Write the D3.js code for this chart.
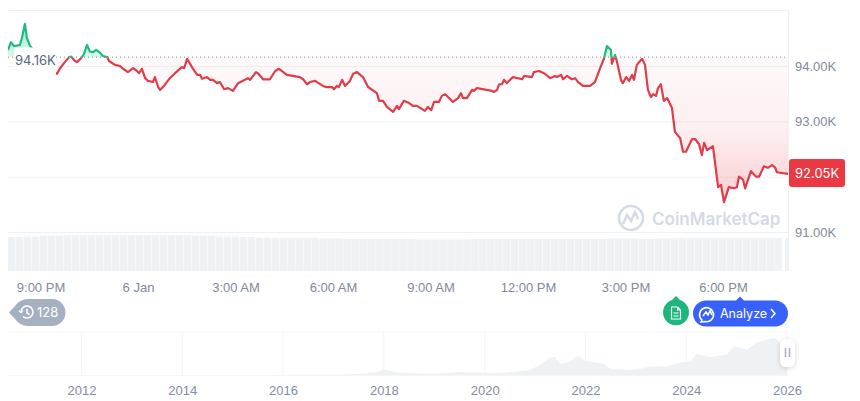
<!DOCTYPE html>
<html>
<head>
<meta charset="utf-8">
<script src="https://cdn.jsdelivr.net/npm/d3@7"></script>
<style>
  html, body { margin: 0; padding: 0; background: #fff; }
  svg { display: block; font-family: Inter, "Noto Sans", sans-serif; }
</style>
</head>
<body>
<svg id="chart" width="860" height="401"></svg>
<script>
// PRICE SERIES (hours since 8 PM, price in thousands)
var hours = [0,.09,.18,.37,.43,.52,.58,.68,.71,.98,1.29,1.51,1.60,1.75,1.88,1.94,2.06,2.12,2.25,2.34,2.43,2.52,2.62,2.71,2.83,2.92,3.05,3.11,3.29,3.45,3.54,3.69,3.85,3.97,4.03,4.12,4.22,4.31,4.46,4.52,4.62,4.68,4.80,4.98,5.14,5.35,5.42,5.51,5.66,5.82,5.91,5.97,6.12,6.22,6.31,6.43,6.52,6.65,6.77,6.92,7.08,7.38,7.45,7.63,7.69,7.85,8.06,8.22,8.34,8.58,8.98,9.08,9.20,9.29,9.45,9.69,9.78,9.97,10.03,10.12,10.18,10.28,10.37,10.52,10.62,10.74,10.92,11.08,11.35,11.42,11.54,11.66,11.85,11.97,12.03,12.18,12.34,12.46,12.58,12.83,12.92,13.02,13.11,13.26,13.35,13.45,13.54,13.69,13.85,13.94,14.00,14.12,14.28,14.34,14.43,14.89,14.95,15.05,15.11,15.20,15.26,15.35,15.45,15.54,15.82,15.88,16.12,16.18,16.34,16.52,16.68,16.83,16.89,17.02,17.08,17.20,17.35,17.45,17.54,17.69,17.91,18.06,18.22,18.34,18.43,18.55,18.58,18.68,18.74,18.86,18.92,19.02,19.11,19.20,19.26,19.35,19.51,19.60,19.69,19.78,19.85,19.94,20.00,20.09,20.18,20.28,20.43,20.52,20.68,20.77,20.86,21.05,21.14,21.26,21.35,21.42,21.51,21.69,21.85,21.94,22.03,22.18,22.34,22.43,22.49,22.62,22.68,22.86,23.02,23.11,23.26,23.38,23.51,23.60,23.66,24.00];
var prices = [94.29,94.43,94.36,94.38,94.51,94.76,94.51,94.36,94.34,94.16,93.93,93.86,93.96,94.07,94.16,94.17,94.09,94.07,94.14,94.22,94.38,94.26,94.25,94.29,94.24,94.18,94.16,94.09,94.02,94.00,93.95,93.89,93.96,93.91,93.87,93.95,93.78,93.73,93.71,93.80,93.62,93.57,93.64,93.78,93.87,93.98,93.96,94.13,93.98,93.84,93.84,93.77,93.80,93.75,93.75,93.69,93.71,93.58,93.60,93.55,93.69,93.78,93.75,93.89,93.87,93.76,93.76,93.91,93.95,93.84,93.80,93.76,93.67,93.71,93.73,93.64,93.62,93.62,93.58,93.64,93.62,93.75,93.64,93.73,93.86,93.89,93.80,93.62,93.51,93.37,93.37,93.26,93.17,93.28,93.22,93.37,93.33,93.28,93.28,93.19,93.26,93.20,93.35,93.35,93.46,93.49,93.44,93.35,93.42,93.51,93.42,93.42,93.57,93.55,93.60,93.55,93.53,93.57,93.67,93.67,93.75,93.69,93.75,93.80,93.76,93.82,93.80,93.89,93.91,93.86,93.78,93.82,93.80,93.84,93.76,93.82,93.76,93.78,93.71,93.64,93.64,93.71,93.96,94.14,94.36,94.29,94.04,94.20,94.07,93.75,93.69,93.80,93.73,93.84,93.75,94.02,94.13,94.02,93.57,93.44,93.49,93.46,93.60,93.67,93.37,93.42,93.24,92.81,92.70,92.45,92.45,92.68,92.68,92.59,92.39,92.61,92.48,92.55,91.81,91.85,91.54,91.81,91.79,91.81,92.00,91.94,91.79,92.10,92.00,92.00,92.19,92.16,92.21,92.17,92.08,92.05];
var baseline = 94.16;
var lastPrice = 92.05;

// AXIS TICKS
var priceTicks = [94, 93, 92, 91];
var timeTicks = [1, 4, 7, 10, 13, 16, 19, 22];
var timeLabels = ["9:00 PM", "6 Jan", "3:00 AM", "6:00 AM", "9:00 AM", "12:00 PM", "3:00 PM", "6:00 PM"];
var yearTicks = [2012, 2014, 2016, 2018, 2020, 2022, 2024, 2026];

// VOLUME BARS (billions, one bar per 15 minutes or so)
var volumes = [34,34,34.5,34.5,35,35,35,35.5,35.5,35.5,35.5,35.5,35.5,35.5,35.5,36,36,36,35.5,35.5,36,36,35.5,35,35,35,34.5,34.5,34.5,34,34,33.5,33.5,33,33,33,33,33,33,32.5,32.5,32.5,32,32,32,32,32,32,32,32,32,31.5,31.5,31.5,31.5,31.5,31.5,31.5,32,32,32,32,32,32,32,32,32,32,32,32,32,32,32,32,32,32.5,32.5,32.5,32.5,32,32,32.5,32.5,32.5,33,33,33,33,33,33,33,33,33,33,33,33,33];

// HISTORY NAVIGATOR (year, price in thousands)
var historyYears = [2010.54,2016.5,2017,2017.5,2017.8,2017.95,2018.03,2018.2,2018.5,2019,2019.5,2019.7,2020,2020.2,2020.5,2020.9,2021.1,2021.3,2021.4,2021.5,2021.7,2021.85,2022,2022.2,2022.35,2022.5,2022.9,2023.1,2023.3,2023.6,2023.9,2024.1,2024.2,2024.5,2024.8,2024.95,2025,2025.2,2025.4,2025.6,2025.75,2025.9,2026];
var historyPrices = [0,.5,1,3,8,15,19,10,7,4,10,9,8,6,10,16,35,58,60,36,45,65,47,42,38,21,17,22,28,29,42,45,70,60,68,96,94,84,108,118,124,100,105];

var left = 8, right = 788;
var svg = d3.select("#chart");
var defs = svg.append("defs");

// SCALES
var x = d3.scaleLinear().domain([0, 24]).range([left, right]);
var y = d3.scaleLinear().domain([91, 94]).range([232, 66]);
var yVol = d3.scaleLinear().domain([0, 40]).range([271, 231]);
var xBar = d3.scaleBand().domain(d3.range(volumes.length)).range([left, 782]).paddingInner(0.05);
var xYear = d3.scaleLinear().domain([2012, 2026]).range([81.5, 787]);
var yHist = d3.scaleLinear().domain([0, 130]).range([375, 336]);

// GRADIENTS AND CLIPS
var redGrad = defs.append("linearGradient").attr("id", "redGrad")
    .attr("gradientUnits", "userSpaceOnUse")
    .attr("x1", 0).attr("x2", 0).attr("y1", y(baseline)).attr("y2", y(91.54));
redGrad.append("stop").attr("offset", 0).attr("stop-color", "#ea3943").attr("stop-opacity", 0.03);
redGrad.append("stop").attr("offset", 0.5).attr("stop-color", "#ea3943").attr("stop-opacity", 0.08);
redGrad.append("stop").attr("offset", 1).attr("stop-color", "#ea3943").attr("stop-opacity", 0.25);

var greenGrad = defs.append("linearGradient").attr("id", "greenGrad")
    .attr("gradientUnits", "userSpaceOnUse")
    .attr("x1", 0).attr("x2", 0).attr("y1", y(94.76)).attr("y2", y(baseline));
greenGrad.append("stop").attr("offset", 0).attr("stop-color", "#16c784").attr("stop-opacity", 0.4);
greenGrad.append("stop").attr("offset", 1).attr("stop-color", "#16c784").attr("stop-opacity", 0.15);

defs.append("clipPath").attr("id", "above").append("rect")
    .attr("x", left).attr("y", 0).attr("width", right - left).attr("height", y(baseline));
defs.append("clipPath").attr("id", "below").append("rect")
    .attr("x", left).attr("y", y(baseline)).attr("width", right - left).attr("height", 271 - y(baseline));

// FRAME AND GRID
svg.append("line").attr("x1", left).attr("x2", right).attr("y1", 10.5).attr("y2", 10.5).attr("stroke", "#eff2f5");
svg.append("line").attr("x1", right + 0.5).attr("x2", right + 0.5).attr("y1", 10).attr("y2", 271).attr("stroke", "#eff2f5");

// the 92.00K label sits under the price tag, so only its gridline shows
var yAxis = d3.axisRight(y).tickValues(priceTicks)
    .tickSize(right - left)
    .tickFormat(function(d) { return d === 92 ? "" : d3.format(".2f")(d) + "K"; });
var yG = svg.append("g").attr("transform", "translate(" + left + ",0)").call(yAxis);
yG.select(".domain").remove();
yG.selectAll("line").attr("stroke", "#eff2f5");
yG.selectAll("text").attr("x", right - left + 7).attr("fill", "#808a9d").attr("font-size", 13);

// VOLUME
svg.append("g").selectAll("rect").data(volumes).join("rect")
    .attr("x", function(d, i) { return xBar(i); })
    .attr("width", xBar.bandwidth())
    .attr("y", function(d) { return yVol(d); })
    .attr("height", function(d) { return yVol(0) - yVol(d); })
    .attr("fill", "#eff2f5");
svg.append("rect").attr("x", 785).attr("width", 3).attr("y", yVol(33)).attr("height", yVol(0) - yVol(33)).attr("fill", "#eff2f5");

// PRICE AREA AND LINE
var points = hours.map(function(h, i) { return [h, prices[i]]; });
var area = d3.area().x(function(d) { return x(d[0]); }).y0(y(baseline)).y1(function(d) { return y(d[1]); });
var line = d3.line().x(function(d) { return x(d[0]); }).y(function(d) { return y(d[1]); });

svg.append("path").datum(points).attr("d", area).attr("fill", "url(#redGrad)").attr("clip-path", "url(#below)");
svg.append("path").datum(points).attr("d", area).attr("fill", "url(#greenGrad)").attr("clip-path", "url(#above)");

svg.append("line").attr("x1", left).attr("x2", right).attr("y1", y(baseline)).attr("y2", y(baseline))
    .attr("stroke", "#8a8f99").attr("stroke-dasharray", "1,3");

svg.append("path").datum(points).attr("d", line).attr("fill", "none")
    .attr("stroke", "#df3d49").attr("stroke-width", 2.2).attr("stroke-linejoin", "round")
    .attr("clip-path", "url(#below)");
svg.append("path").datum(points).attr("d", line).attr("fill", "none")
    .attr("stroke", "#1fbb80").attr("stroke-width", 2.2).attr("stroke-linejoin", "round")
    .attr("clip-path", "url(#above)");

// BASELINE LABEL (sits over the line)
svg.append("rect").attr("x", 14).attr("y", 47.5).attr("width", 42).attr("height", 27).attr("fill", "#fff");
svg.append("line").attr("x1", 14).attr("x2", 56).attr("y1", y(94)).attr("y2", y(94)).attr("stroke", "#f6f7f9");
svg.append("text").attr("x", 15).attr("y", 65).attr("fill", "#58667e").attr("font-size", 13)
    .text(d3.format(".2f")(baseline) + "K");

// LAST PRICE TAG
svg.append("rect").attr("x", 789).attr("y", 159).attr("width", 56).attr("height", 28).attr("rx", 3).attr("fill", "#ea3943");
svg.append("text").attr("x", 795).attr("y", y(lastPrice) + 4).attr("fill", "#fff").attr("font-size", 13)
    .text(d3.format(".2f")(lastPrice) + "K");

// WATERMARK
var mark = svg.append("g").attr("fill", "none").attr("stroke", "#d4dae6").attr("stroke-width", 2.5);
mark.append("circle").attr("cx", 631).attr("cy", 218).attr("r", 12);
mark.append("path").attr("d", "M623 224l4-9 4 6 4-9 3 7");
svg.append("text").attr("x", 652).attr("y", 225).attr("fill", "#d4dae6").attr("font-size", 17).attr("font-weight", 600)
    .text("CoinMarketCap");

// TIME AXIS
var xAxis = d3.axisBottom(x).tickValues(timeTicks).tickSize(0)
    .tickFormat(function(d, i) { return timeLabels[i]; });
var xG = svg.append("g").attr("transform", "translate(0,279)").call(xAxis);
xG.select(".domain").remove();
xG.selectAll("text").attr("fill", "#808a9d").attr("font-size", 13).attr("dy", "0.75em");

// HISTORY NAVIGATOR
var histArea = d3.area().x(function(d) { return xYear(d[0]); }).y0(yHist(0)).y1(function(d) { return yHist(d[1]); });
svg.append("line").attr("x1", left).attr("x2", right).attr("y1", 332).attr("y2", 332).attr("stroke", "#f3f5f7");
svg.append("line").attr("x1", left).attr("x2", right).attr("y1", 375.5).attr("y2", 375.5).attr("stroke", "#f3f5f7");
svg.append("g").selectAll("line").data(yearTicks).join("line")
    .attr("x1", function(d) { return xYear(d); }).attr("x2", function(d) { return xYear(d); })
    .attr("y1", 332).attr("y2", 375).attr("stroke", "#f3f5f7");
svg.append("path").datum(historyYears.map(function(t, i) { return [t, historyPrices[i]]; }))
    .attr("d", histArea).attr("fill", "#eff2f5");

var yearAxis = d3.axisBottom(xYear).tickValues(yearTicks).tickSize(0).tickFormat(d3.format("d"));
var yearG = svg.append("g").attr("transform", "translate(0,382)").call(yearAxis);
yearG.select(".domain").remove();
yearG.selectAll("text").attr("fill", "#858ca2").attr("font-size", 13).attr("dy", "0.75em");

// SLIDER HANDLE
var handle = defs.append("filter").attr("id", "soft").attr("x", "-50%").attr("y", "-50%").attr("width", "200%").attr("height", "200%");
handle.append("feDropShadow").attr("dx", 0).attr("dy", 1).attr("stdDeviation", 2.5).attr("flood-color", "#000").attr("flood-opacity", 0.18);
svg.append("rect").attr("x", 780).attr("y", 339).attr("width", 15).attr("height", 28).attr("rx", 6).attr("fill", "#fff").attr("filter", "url(#soft)");
svg.append("path").attr("d", "M785.5 348v9M789.5 348v9").attr("stroke", "#a6b0c3").attr("stroke-width", 1.5);

// HISTORY BADGE
svg.append("path").attr("d", "M9 312.5L15 306Q20 299 28 299H52A13.5 13.5 0 0 1 52 326H28Q20 326 15 319Z").attr("fill", "#a6b0c3");
var clock = svg.append("g").attr("fill", "none").attr("stroke", "#fff").attr("stroke-width", 1.5);
clock.append("path").attr("d", "M21 312a6 6 0 1 1 2 4.5");
clock.append("path").attr("d", "M19 310.5l2 2 2-2M27 309v4l2.5 1.5");
svg.append("text").attr("x", 37).attr("y", 317).attr("fill", "#fff").attr("font-size", 13).text("128");

// NEWS MARKER
svg.append("path").attr("d", "M676 296L680 300A13 13 0 1 1 672 300Z").attr("fill", "#1fb67c");
var doc = svg.append("g").attr("fill", "none").attr("stroke", "#fff").attr("stroke-width", 1.2);
doc.append("path").attr("d", "M671.5 307h6l3 3v9h-9zM677.5 307v3h3");
doc.append("path").attr("d", "M673.5 313h5M673.5 316h5");

// ANALYZE BUTTON
svg.append("path").attr("d", "M706 300.5H736L740 296.5L744 300.5H775A13 13 0 0 1 775 326.5H706A13 13 0 0 1 706 300.5Z").attr("fill", "#3861fb");
var bubble = svg.append("g").attr("fill", "none").attr("stroke", "#fff").attr("stroke-width", 1.6);
bubble.append("path").attr("d", "M702 320a7 7 0 1 1 3 1.5l-4 .5z");
bubble.append("path").attr("d", "M703 316l3-4 2 3 2-4 2 4");
svg.append("text").attr("x", 720).attr("y", 318).attr("fill", "#fff").attr("font-size", 12.5).text("Analyze");
svg.append("path").attr("d", "M771 309l4 4.5-4 4.5").attr("fill", "none").attr("stroke", "#fff").attr("stroke-width", 1.5);
</script>
</body>
</html>
